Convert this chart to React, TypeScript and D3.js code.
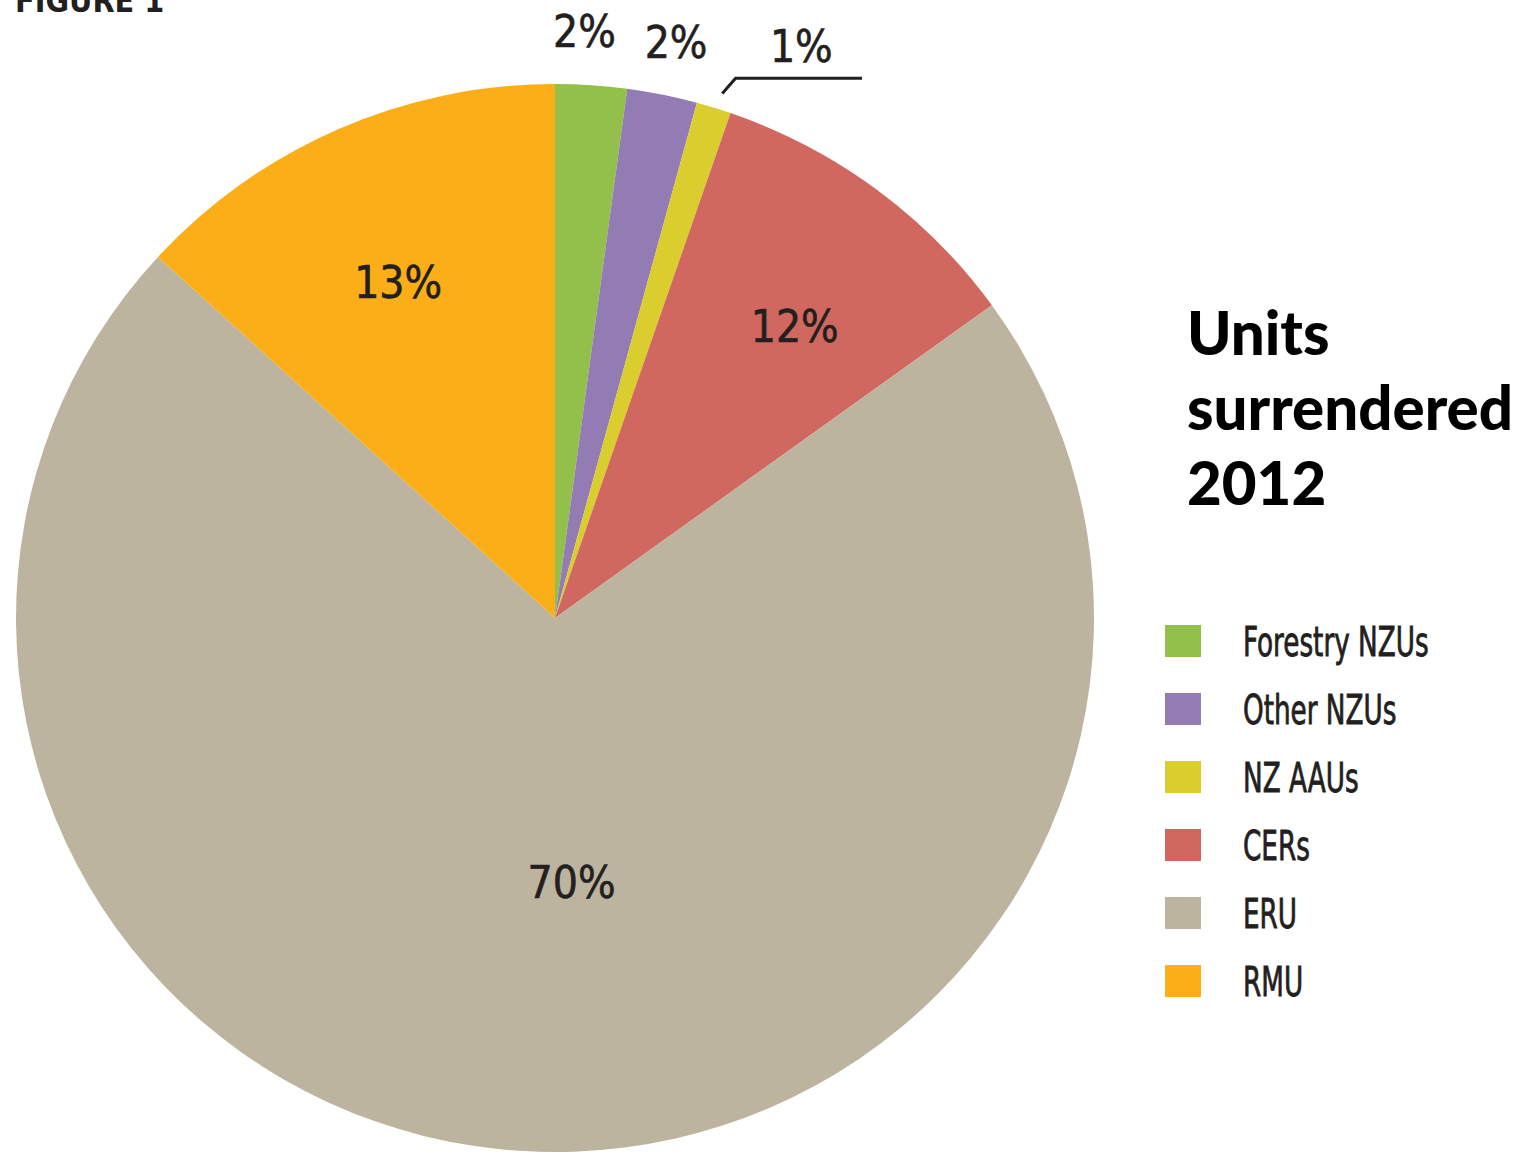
import React from "react";
import * as d3 from "d3";

const categories = ["Forestry NZUs", "Other NZUs", "NZ AAUs", "CERs", "ERU", "RMU"];
const values = [2.14, 2.1, 1.04, 9.76, 71.78, 13.18];
const labels = ["2%", "2%", "1%", "12%", "70%", "13%"];
const colors = ["#92C04B", "#937CB3", "#D9CE2D", "#D06860", "#BCB49E", "#FBAE17"];
const titleLines = ["Units", "surrendered", "2012"];

// layout
const W = 1522, H = 1153;
const CX = 555, CY = 618, R = 539, SY = 534 / 539;
const labelAngleOffset = [-1, 0.3, 6, 2.6, -6.9, -1.1];
const labelRadius = [1.1, 1.1, 1.163, 0.704, 0.497, 0.693];

export default function App() {
  const pie = d3.pie<number>().sort(null).value((d) => d)(values);
  const arc = d3.arc<d3.PieArcDatum<number>>().innerRadius(0).outerRadius(R);
  const rad = Math.PI / 180;
  const pos = (angle: number, r: number) => [
    CX + Math.sin(angle) * r * R,
    CY - Math.cos(angle) * r * R * SY,
  ];
  const aau = pie[2];
  const mid = (aau.startAngle + aau.endAngle) / 2;
  const p1 = pos(mid + 0.4 * rad, 1.03);
  const p2 = pos(mid + 1.2 * rad, 1.065);
  return (
    <svg width={W} height={H} style={{ position: "absolute", left: 0, top: 0, background: "#fff" }}>
      <text x={15} y={12} fontFamily="DejaVu Sans Condensed, DejaVu Sans" fontWeight="bold" fontSize={32} fill="#231f20">FIGURE 1</text>
      <g transform={`translate(${CX},${CY}) scale(1,${SY})`}>
        {pie.map((d, i) => (
          <path key={i} d={arc(d) as string} fill={colors[i]} />
        ))}
      </g>
      {pie.map((d, i) => {
        const a = (d.startAngle + d.endAngle) / 2 + labelAngleOffset[i] * rad;
        const [x, y] = pos(a, labelRadius[i]);
        return (
          <text key={i} x={x} y={y} textAnchor="middle" dominantBaseline="central"
            fontFamily="DejaVu Sans Condensed, DejaVu Sans" fontSize={44} fill="#231f20"
            stroke="#231f20" strokeWidth={0.6}>{labels[i]}</text>
        );
      })}
      <polyline points={`${p1[0]},${p1[1]} ${p2[0]},${p2[1]} 862,${p2[1]}`} fill="none" stroke="#231f20" strokeWidth={3} />
      {titleLines.map((t, i) => (
        <text key={t} x={1187} y={355 + i * 75} fontFamily="Lato" fontWeight="900" fontSize={60} fill="#000">{t}</text>
      ))}
      {categories.map((c, i) => (
        <g key={c} transform={`translate(0,${625 + i * 68})`}>
          <rect x={1165} y={0} width={36} height={32} fill={colors[i]} />
          <text x={1243} y={31} fontFamily="DejaVu Sans Condensed, DejaVu Sans" fontSize={40} fill="#231f20"
            stroke="#231f20" strokeWidth={0.8}
            transform={`translate(1243,0) scale(0.73,1) translate(-1243,0)`}>{c}</text>
        </g>
      ))}
    </svg>
  );
}
